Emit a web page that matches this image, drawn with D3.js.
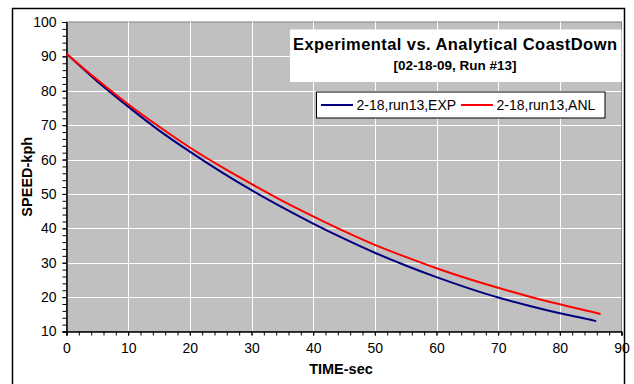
<!DOCTYPE html>
<html>
<head>
<meta charset="utf-8">
<script src="https://cdn.jsdelivr.net/npm/d3@7"></script>
<style>
  html, body { margin: 0; padding: 0; background: #fff; }
  svg { display: block; font-family: "Liberation Sans", Arial, sans-serif; }
</style>
</head>
<body>
<svg id="chart" width="634" height="384"></svg>
<script>
// ---- data ----
const timeExp  = [0, 5, 10, 15, 20, 25, 30, 35, 40, 45, 50, 55, 60, 65, 70, 75, 80, 85, 85.9];
const speedExp = [90.8, 82.7, 75.4, 68.5, 62.3, 56.5, 51.1, 46.1, 41.4, 37.0, 32.9, 29.2, 25.8, 22.7, 19.9, 17.5, 15.3, 13.4, 13.0];
const timeAnl  = [0, 5, 10, 15, 20, 25, 30, 35, 40, 45, 50, 55, 60, 65, 70, 75, 80, 85, 86.6];
const speedAnl = [90.8, 83.2, 76.1, 69.6, 63.5, 58.0, 52.9, 48.0, 43.5, 39.2, 35.2, 31.7, 28.4, 25.4, 22.7, 20.2, 17.9, 15.8, 15.1];
const seriesNames = ["2-18,run13,EXP", "2-18,run13,ANL"];
const xTicks = [0, 10, 20, 30, 40, 50, 60, 70, 80, 90];
const yTicks = [10, 20, 30, 40, 50, 60, 70, 80, 90, 100];
const titleText = "Experimental vs. Analytical CoastDown";
const subtitleText = "[02-18-09, Run #13]";
const xLabel = "TIME-sec";
const yLabel = "SPEED-kph";

const svg = d3.select("#chart");

// outer frame
svg.append("rect").attr("x", 12.5).attr("y", 8.5).attr("width", 612).attr("height", 400)
  .attr("fill", "#fff").attr("stroke", "#000").attr("stroke-width", 1.5);

const L = 66.5, R = 621.5, T = 22, B = 331.5;
const x = d3.scaleLinear().domain([0, 90]).range([L, R]);
const y = d3.scaleLinear().domain([10, 100]).range([B, T]);

// plot area
svg.append("rect").attr("x", L).attr("y", T).attr("width", R - L).attr("height", B - T)
  .attr("fill", "#c0c0c0").attr("stroke", "#808080").attr("stroke-width", 1);

// grid
const g = svg.append("g");
g.selectAll(".vg").data(xTicks.filter(d => d > 0 && d < 90)).enter().append("line")
  .attr("x1", d => Math.round(x(d)) + 0.5).attr("x2", d => Math.round(x(d)) + 0.5)
  .attr("y1", T).attr("y2", B).attr("stroke", "#fff").attr("stroke-width", 1);
g.selectAll(".hg").data(yTicks.filter(d => d > 10 && d < 100)).enter().append("line")
  .attr("y1", d => Math.round(y(d)) + 0.5).attr("y2", d => Math.round(y(d)) + 0.5)
  .attr("x1", L).attr("x2", R).attr("stroke", "#fff").attr("stroke-width", 1);

// axes
const xAxis = d3.axisBottom(x).tickValues(xTicks).tickSize(4).tickPadding(8).tickFormat(d3.format("d"));
const xMinor = d3.axisBottom(x).tickValues(d3.range(0, 91, 2)).tickSize(4).tickFormat("");
const yAxis = d3.axisLeft(y).tickValues(yTicks).tickSize(4).tickPadding(6).tickFormat(d3.format("d"));
const yMinor = d3.axisLeft(y).tickValues(d3.range(10, 101, 2)).tickSize(4).tickFormat("");

function styleAxis(sel) {
  sel.select(".domain").attr("stroke", "#000").attr("stroke-width", 1);
  sel.selectAll(".tick line").attr("stroke", "#000");
  sel.selectAll("text").attr("fill", "#000").style("font-size", "14px")
     .style("font-family", "'Liberation Sans', Arial, sans-serif");
}
svg.append("g").attr("transform", `translate(0,${B})`).call(xMinor).call(styleAxis);
svg.append("g").attr("transform", `translate(0,${B})`).call(xAxis).call(styleAxis);
svg.append("g").attr("transform", `translate(${L},0)`).call(yMinor).call(styleAxis);
svg.append("g").attr("transform", `translate(${L},0)`).call(yAxis).call(styleAxis);

// lines
const line = d3.line().x(d => x(d[0])).y(d => y(d[1])).curve(d3.curveMonotoneX);
const expData = timeExp.map((t, i) => [t, speedExp[i]]);
const anlData = timeAnl.map((t, i) => [t, speedAnl[i]]);
svg.append("path").datum(expData).attr("d", line).attr("fill", "none")
  .attr("stroke", "#000080").attr("stroke-width", 2);
svg.append("path").datum(anlData).attr("d", line).attr("fill", "none")
  .attr("stroke", "#ff0000").attr("stroke-width", 2);

// title box
svg.append("rect").attr("x", 290).attr("y", 29.5).attr("width", R - 290).attr("height", 52.5).attr("fill", "#fff");
svg.append("text").attr("x", 455).attr("y", 50).attr("text-anchor", "middle")
  .attr("textLength", 324).attr("lengthAdjust", "spacing")
  .style("font-size", "16.5px").style("font-weight", "bold").text(titleText);
svg.append("text").attr("x", 455).attr("y", 69.5).attr("text-anchor", "middle")
  .style("font-size", "13.5px").style("font-weight", "bold").text(subtitleText);

// legend
svg.append("rect").attr("x", 316.5).attr("y", 92).attr("width", 288.5).attr("height", 26)
  .attr("fill", "#fff").attr("stroke", "#000").attr("stroke-width", 1);
const legendColors = ["#000080", "#ff0000"];
const legendX = [321, 461];
seriesNames.forEach((name, i) => {
  svg.append("line").attr("x1", legendX[i]).attr("x2", legendX[i] + 32).attr("y1", 105).attr("y2", 105)
    .attr("stroke", legendColors[i]).attr("stroke-width", 2);
  svg.append("text").attr("x", legendX[i] + 35.5).attr("y", 110)
    .style("font-size", "14px").text(name);
});

// axis titles
svg.append("text").attr("x", (L + R) / 2 - 3).attr("y", 374).attr("text-anchor", "middle")
  .style("font-size", "14.5px").style("font-weight", "bold").text(xLabel);
svg.append("text").attr("transform", `translate(31.5,${(T + B) / 2}) rotate(-90)`).attr("text-anchor", "middle")
  .style("font-size", "14.5px").style("font-weight", "bold").text(yLabel);
</script>
</body>
</html>
